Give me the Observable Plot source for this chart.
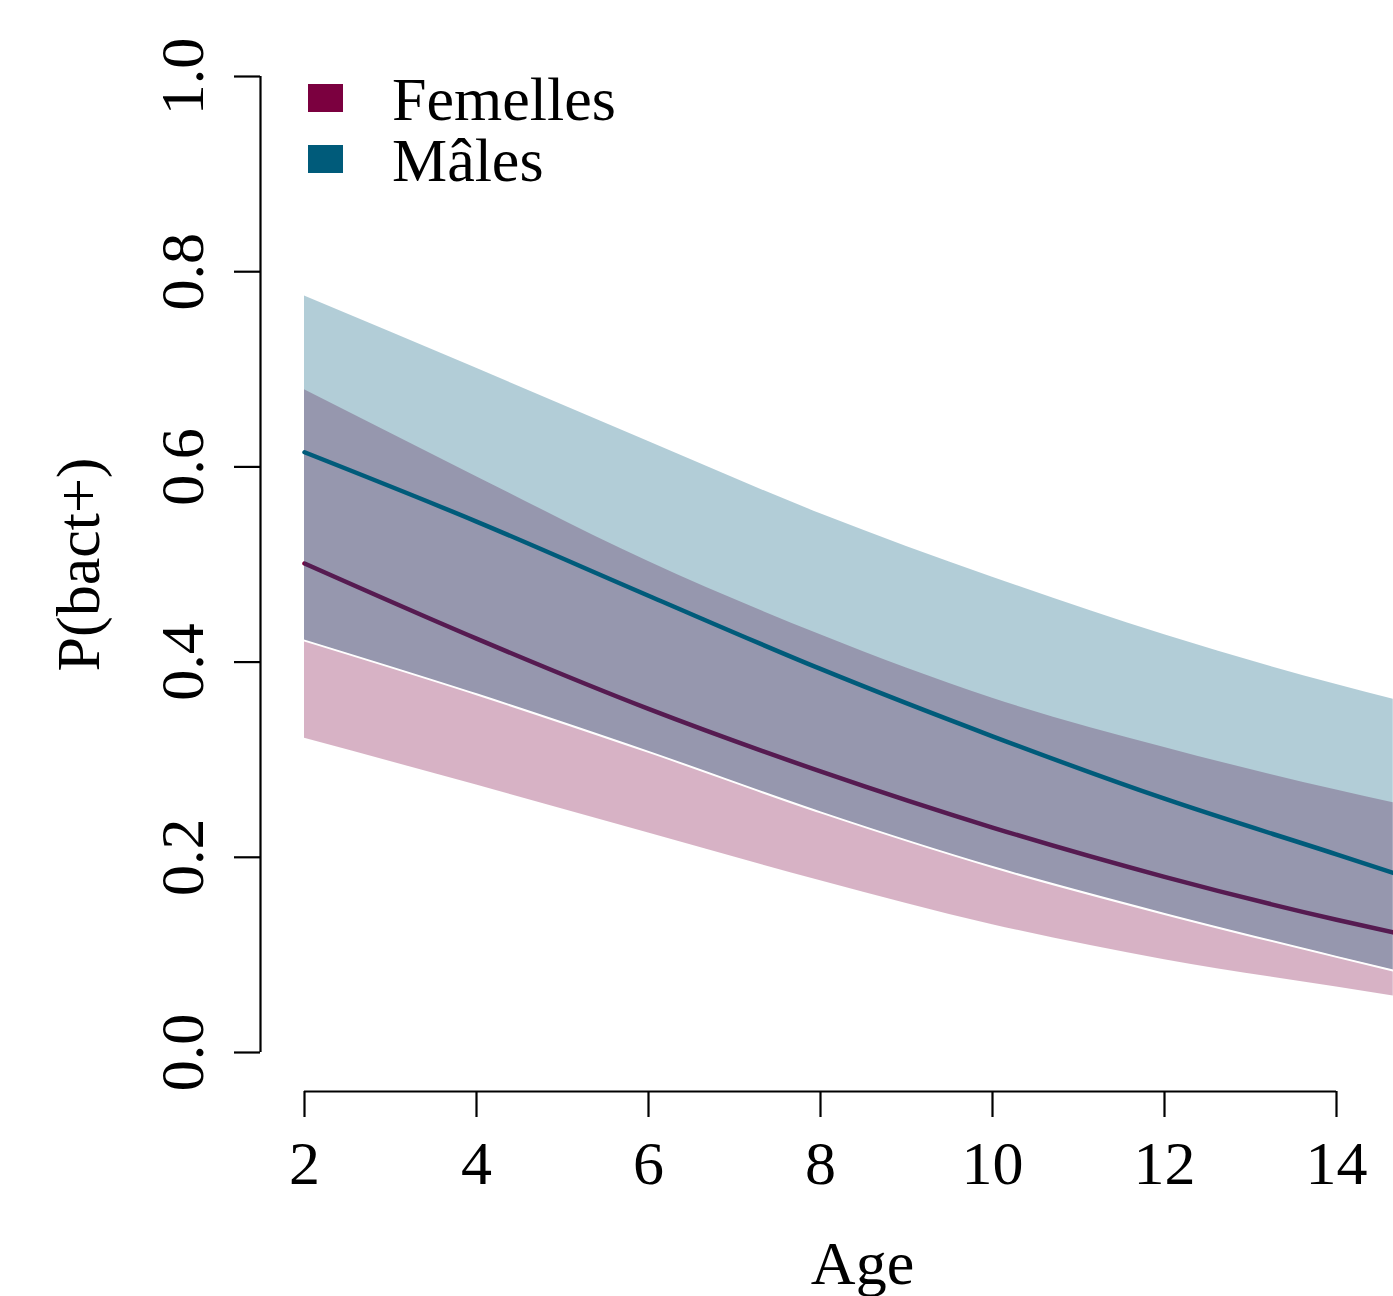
<!DOCTYPE html>
<html>
<head>
<meta charset="utf-8">
<script src="https://cdn.jsdelivr.net/npm/d3@7"></script>
<script src="https://cdn.jsdelivr.net/npm/@observablehq/plot@0.6"></script>
<style>
  html, body { margin: 0; padding: 0; background: white; }
</style>
</head>
<body>
<div id="chart"></div>
<script>
const ages = [2, 4, 6, 8, 10, 12, 14, 14.66];

// Femelles (females)
const femMean  = [0.501, 0.424, 0.352, 0.288, 0.2305, 0.180, 0.136, 0.123];
const femLower = [0.322, 0.274, 0.225, 0.176, 0.131, 0.095, 0.067, 0.058];
const femUpper = [0.679, 0.590, 0.503, 0.428, 0.363, 0.3125, 0.269, 0.256];

// Mâles (males)
const maleMean  = [0.615, 0.544, 0.468, 0.393, 0.324, 0.260, 0.203, 0.184];
const maleLower = [0.422, 0.367, 0.308, 0.246, 0.190, 0.142, 0.098, 0.084];
const maleUpper = [0.775, 0.701, 0.626, 0.552, 0.487, 0.428, 0.377, 0.362];

// Axes
const xTicks = [2, 4, 6, 8, 10, 12, 14];
const xTickLabels = ["2", "4", "6", "8", "10", "12", "14"];
const yTicks = [0, 0.2, 0.4, 0.6, 0.8, 1.0];
const yTickLabels = ["0.0", "0.2", "0.4", "0.6", "0.8", "1.0"];

const seriesNames = ["Femelles", "Mâles"];
const seriesColors = ["#7B003F", "#005B7A"];

const fem = ages.map((a, i) => ({age: a, mean: femMean[i], lo: femLower[i], hi: femUpper[i]}));
const male = ages.map((a, i) => ({age: a, mean: maleMean[i], lo: maleLower[i], hi: maleUpper[i]}));

const FONT = "Liberation Serif, Times New Roman, serif";
const FS = 62;

const svg = Plot.plot({
  width: 1393,
  height: 1296,
  marginLeft: 304,
  marginRight: 57,
  marginTop: 76,
  marginBottom: 244,
  style: {fontFamily: FONT, fontSize: FS + "px", background: "white", color: "black", overflow: "visible"},
  x: {domain: [xTicks[0], xTicks[xTicks.length - 1]], label: null},
  y: {domain: [yTicks[0], yTicks[yTicks.length - 1]], label: null},
  marks: [
    Plot.areaY(fem, {x: "age", y1: "lo", y2: "hi", fill: seriesColors[0], fillOpacity: 0.3, curve: "monotone-x"}),
    Plot.line(fem, {x: "age", y: "mean", stroke: seriesColors[0], strokeWidth: 4.5, curve: "monotone-x"}),
    Plot.areaY(male, {x: "age", y1: "lo", y2: "hi", fill: seriesColors[1], fillOpacity: 0.3, curve: "monotone-x"}),
    Plot.line(male, {x: "age", y: "lo", stroke: "white", strokeWidth: 2, curve: "monotone-x"}),
    Plot.line(male, {x: "age", y: "mean", stroke: seriesColors[1], strokeWidth: 4.5, curve: "monotone-x"}),
    // R-style detached axes
    Plot.ruleX([xTicks[0]], {y1: yTicks[0], y2: yTicks[yTicks.length - 1], dx: -44, strokeWidth: 2.2, stroke: "black"}),
    Plot.ruleY([yTicks[0]], {x1: xTicks[0], x2: xTicks[xTicks.length - 1], dy: 39, strokeWidth: 2.2, stroke: "black"}),
    Plot.axisY(yTicks, {
      anchor: "left", tickSize: 26, tickPadding: 32, tickRotate: -90, dx: -44,
      tickFormat: d => yTickLabels[yTicks.indexOf(d)], fontSize: FS, strokeWidth: 2.2, stroke: "black", label: null
    }),
    Plot.axisX(xTicks, {
      anchor: "bottom", tickSize: 26, tickPadding: 22, dy: 39,
      tickFormat: d => xTickLabels[xTicks.indexOf(d)], fontSize: FS, strokeWidth: 2.2, stroke: "black", label: null
    }),
    Plot.text(["Age"], {text: d => d, frameAnchor: "bottom", textAnchor: "middle", dx: 42, dy: 231, lineAnchor: "bottom", fontSize: FS, fill: "black"}),
    Plot.text(["P(bact+)"], {text: d => d, frameAnchor: "left", textAnchor: "middle", rotate: -90, dx: -206, lineAnchor: "bottom", fontSize: FS, fill: "black"})
  ]
});

// Legend (top-left, inside the plot)
const lg = d3.select(svg).append("g")
  .attr("font-family", FONT).attr("font-size", FS).attr("text-anchor", "start");
seriesNames.forEach((name, i) => {
  lg.append("rect").attr("x", 308).attr("y", 84 + i * 61).attr("width", 35).attr("height", 28).attr("fill", seriesColors[i]);
  lg.append("text").attr("x", 392).attr("y", 120 + i * 61).attr("fill", "black").text(name);
});

document.getElementById("chart").appendChild(svg);
</script>
</body>
</html>
